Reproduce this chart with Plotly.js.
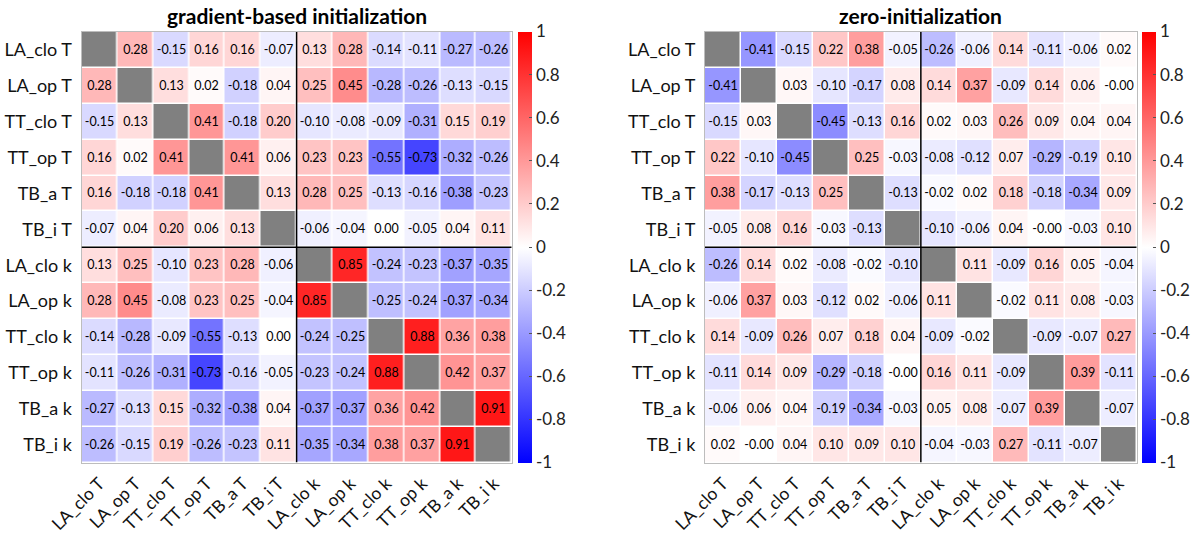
<!DOCTYPE html>
<html>
<head>
<meta charset="utf-8">
<script src="https://cdn.plot.ly/plotly-3.0.1.min.js"></script>
<style>html,body{margin:0;padding:0;background:#fff;}#chart{width:1194px;height:535px;}</style>
</head>
<body>
<div id="chart"></div>
<script>
const labels = ['LA_clo T','LA_op T','TT_clo T','TT_op T','TB_a T','TB_i T','LA_clo k','LA_op k','TT_clo k','TT_op k','TB_a k','TB_i k'];

const titleLeft = 'gradient-based initialization';
const titleRight = 'zero-initialization';

const gradientCorr = [
  [null, 0.28, -0.15, 0.16, 0.16, -0.07, 0.13, 0.28, -0.14, -0.11, -0.27, -0.26],
  [0.28, null, 0.13, 0.02, -0.18, 0.04, 0.25, 0.45, -0.28, -0.26, -0.13, -0.15],
  [-0.15, 0.13, null, 0.41, -0.18, 0.20, -0.10, -0.08, -0.09, -0.31, 0.15, 0.19],
  [0.16, 0.02, 0.41, null, 0.41, 0.06, 0.23, 0.23, -0.55, -0.73, -0.32, -0.26],
  [0.16, -0.18, -0.18, 0.41, null, 0.13, 0.28, 0.25, -0.13, -0.16, -0.38, -0.23],
  [-0.07, 0.04, 0.20, 0.06, 0.13, null, -0.06, -0.04, 0.00, -0.05, 0.04, 0.11],
  [0.13, 0.25, -0.10, 0.23, 0.28, -0.06, null, 0.85, -0.24, -0.23, -0.37, -0.35],
  [0.28, 0.45, -0.08, 0.23, 0.25, -0.04, 0.85, null, -0.25, -0.24, -0.37, -0.34],
  [-0.14, -0.28, -0.09, -0.55, -0.13, 0.00, -0.24, -0.25, null, 0.88, 0.36, 0.38],
  [-0.11, -0.26, -0.31, -0.73, -0.16, -0.05, -0.23, -0.24, 0.88, null, 0.42, 0.37],
  [-0.27, -0.13, 0.15, -0.32, -0.38, 0.04, -0.37, -0.37, 0.36, 0.42, null, 0.91],
  [-0.26, -0.15, 0.19, -0.26, -0.23, 0.11, -0.35, -0.34, 0.38, 0.37, 0.91, null]
];

const zeroCorr = [
  [null, -0.41, -0.15, 0.22, 0.38, -0.05, -0.26, -0.06, 0.14, -0.11, -0.06, 0.02],
  [-0.41, null, 0.03, -0.10, -0.17, 0.08, 0.14, 0.37, -0.09, 0.14, 0.06, -0.001],
  [-0.15, 0.03, null, -0.45, -0.13, 0.16, 0.02, 0.03, 0.26, 0.09, 0.04, 0.04],
  [0.22, -0.10, -0.45, null, 0.25, -0.03, -0.08, -0.12, 0.07, -0.29, -0.19, 0.10],
  [0.38, -0.17, -0.13, 0.25, null, -0.13, -0.02, 0.02, 0.18, -0.18, -0.34, 0.09],
  [-0.05, 0.08, 0.16, -0.03, -0.13, null, -0.10, -0.06, 0.04, -0.001, -0.03, 0.10],
  [-0.26, 0.14, 0.02, -0.08, -0.02, -0.10, null, 0.11, -0.09, 0.16, 0.05, -0.04],
  [-0.06, 0.37, 0.03, -0.12, 0.02, -0.06, 0.11, null, -0.02, 0.11, 0.08, -0.03],
  [0.14, -0.09, 0.26, 0.07, 0.18, 0.04, -0.09, -0.02, null, -0.09, -0.07, 0.27],
  [-0.11, 0.14, 0.09, -0.29, -0.18, -0.001, 0.16, 0.11, -0.09, null, 0.39, -0.11],
  [-0.06, 0.06, 0.04, -0.19, -0.34, -0.03, 0.05, 0.08, -0.07, 0.39, null, -0.07],
  [0.02, -0.001, 0.04, 0.10, 0.09, 0.10, -0.04, -0.03, 0.27, -0.11, -0.07, null]
];

const cbTickVals = [-1, -0.8, -0.6, -0.4, -0.2, 0, 0.2, 0.4, 0.6, 0.8, 1];
const cbTickText = ['-1', '-0.8', '-0.6', '-0.4', '-0.2', '0', '0.2', '0.4', '0.6', '0.8', '1'];

const FONT = 'Lato, "Open Sans", "DejaVu Sans", sans-serif';
const idx = labels.map((_, i) => i);
const W = 1194, H = 535;
const yTop = 1 - 32 / H, yBot = 1 - 462.5 / H;
const dom1 = [81.5 / W, 511.7 / W];
const dom2 = [705 / W, 1136.7 / W];

function textOf(m) { return m.map(r => r.map(v => v === null ? '' : v.toFixed(2))); }
const diag = labels.map((_, i) => labels.map((_, j) => i === j ? 1 : null));

function heat(z, xa, ya, cbx) {
  return {
    type: 'heatmap', x: idx, y: idx, z: z, xaxis: xa, yaxis: ya,
    zmin: -1, zmax: 1,
    colorscale: [[0, 'rgb(0,0,255)'], [0.5, 'rgb(255,255,255)'], [1, 'rgb(255,0,0)']],
    xgap: 1.5, ygap: 1.5,
    text: textOf(z), texttemplate: '%{text}',
    textfont: {family: FONT, size: 12.5, color: '#000'},
    hoverongaps: false,
    colorbar: {
      x: cbx, xanchor: 'left', xref: 'paper', xpad: 0, ypad: 0,
      y: yBot, yanchor: 'bottom', len: yTop - yBot, lenmode: 'fraction',
      thickness: 14, thicknessmode: 'pixels', outlinewidth: 0,
      tickvals: cbTickVals, ticktext: cbTickText,
      ticks: 'inside', ticklen: 3, tickcolor: '#555',
      tickfont: {family: FONT, size: 17, color: '#222'}
    }
  };
}
function diagTrace(xa, ya) {
  return {
    type: 'heatmap', x: idx, y: idx, z: diag, xaxis: xa, yaxis: ya,
    colorscale: [[0, '#808080'], [1, '#808080']], showscale: false,
    xgap: 1.5, ygap: 1.5, hoverinfo: 'skip'
  };
}

const traces = [
  diagTrace('x', 'y'),
  heat(gradientCorr, 'x', 'y', 518.3 / W),
  diagTrace('x2', 'y2'),
  heat(zeroCorr, 'x2', 'y2', 1142.3 / W)
];

function xax(dom, anchor) {
  return {
    domain: dom, anchor: anchor, range: [-0.5, 11.5],
    tickvals: idx, ticktext: labels, tickangle: -45,
    tickfont: {family: FONT, size: 17.5, color: '#111'},
    ticks: 'outside', ticklen: 3, tickcolor: 'rgba(0,0,0,0)',
    showgrid: false, zeroline: false,
    showline: true, mirror: true, linecolor: '#bdbdbd', linewidth: 1
  };
}
function yax(anchor) {
  return {
    domain: [yBot, yTop], anchor: anchor, range: [11.5, -0.5],
    tickvals: idx, ticktext: labels,
    tickfont: {family: FONT, size: 18, color: '#111'},
    ticks: 'outside', ticklen: 5, tickcolor: 'rgba(0,0,0,0)',
    showgrid: false, zeroline: false,
    showline: true, mirror: true, linecolor: '#bdbdbd', linewidth: 1
  };
}

function divider(xr, yr) {
  return [
    {type: 'line', xref: xr, yref: yr, x0: 5.5, x1: 5.5, y0: -0.5, y1: 11.5, line: {color: '#000', width: 1.5}},
    {type: 'line', xref: xr, yref: yr, x0: -0.5, x1: 11.5, y0: 5.5, y1: 5.5, line: {color: '#000', width: 1.5}}
  ];
}

const layout = {
  width: W, height: H,
  margin: {l: 0, r: 0, t: 0, b: 0},
  paper_bgcolor: '#fff', plot_bgcolor: '#fff',
  showlegend: false,
  xaxis: xax(dom1, 'y'), yaxis: yax('x'),
  xaxis2: xax(dom2, 'y2'), yaxis2: yax('x2'),
  shapes: divider('x', 'y').concat(divider('x2', 'y2')),
  annotations: [
    {text: '<b>' + titleLeft + '</b>', xref: 'paper', yref: 'paper', x: (dom1[0] + dom1[1]) / 2, y: 1 - 15 / H,
     xanchor: 'center', yanchor: 'middle', showarrow: false, font: {family: FONT, size: 21, color: '#000'}},
    {text: '<b>' + titleRight + '</b>', xref: 'paper', yref: 'paper', x: (dom2[0] + dom2[1]) / 2, y: 1 - 15 / H,
     xanchor: 'center', yanchor: 'middle', showarrow: false, font: {family: FONT, size: 21, color: '#000'}}
  ]
};

Plotly.newPlot('chart', traces, layout, {displayModeBar: false, staticPlot: true});
</script>
</body>
</html>
